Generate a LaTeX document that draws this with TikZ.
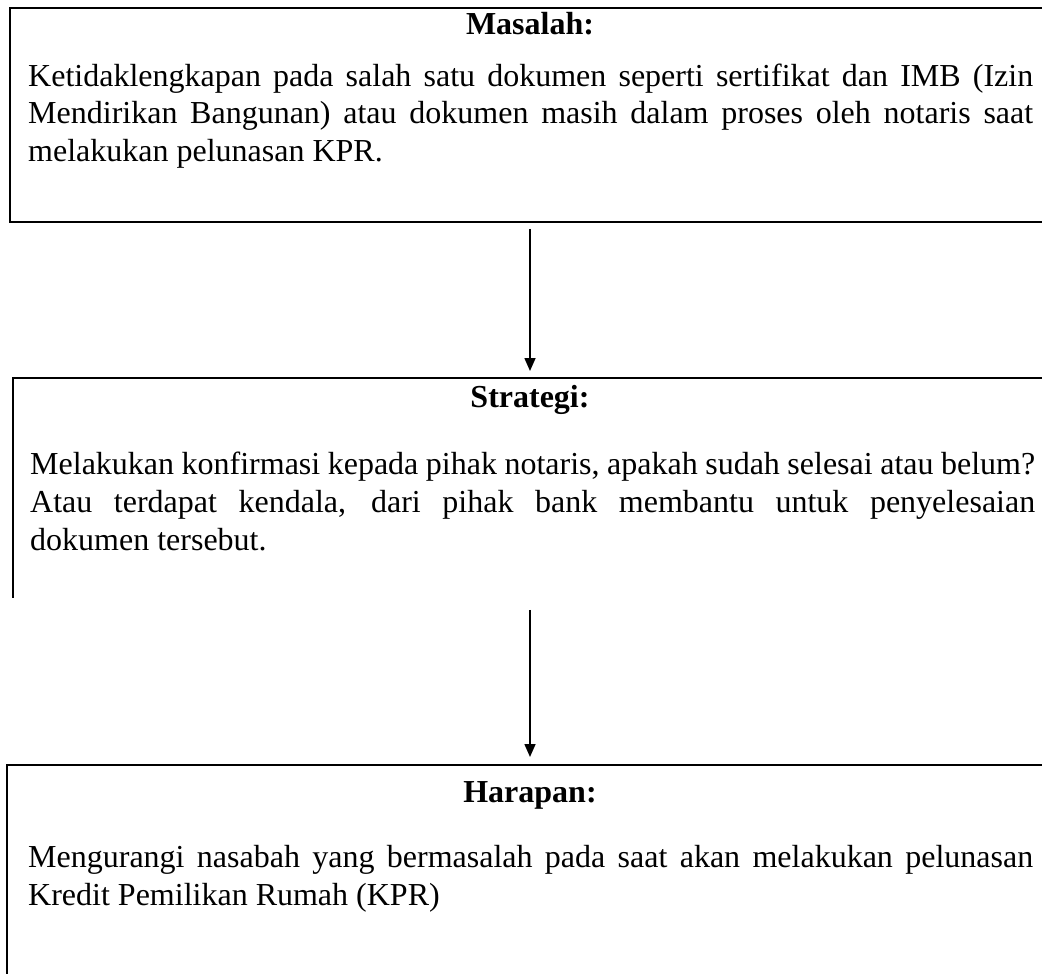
\documentclass[tikz,border=0pt]{standalone}
\usepackage{fontspec}
\setmainfont{Liberation Serif}
\usetikzlibrary{positioning,arrows.meta}

\begin{document}
\begin{tikzpicture}[x=1pt,y=-1pt,
		kotak/.style={draw, line width=1.8pt, inner sep=0pt, anchor=north west},
		judul/.style={font=\bfseries\fontsize{32}{38}\selectfont, anchor=base, inner sep=0pt},
		isi/.style={font=\fontsize{32}{38}\selectfont, text width=1005pt, align=justify, anchor=base west, inner sep=0pt},
		panah/.style={-{Triangle[width=11pt,length=13pt]}, line width=1.6pt}]
		\useasboundingbox (0,0) rectangle (1042,974);
		\clip (0,0) rectangle (1042,974);
		% kotak
		\node[kotak, minimum width=1051pt, minimum height=214pt] (kMasalah) at (9,7) {};
		\node[kotak, draw=none, minimum width=1047pt, minimum height=218pt] (kStrategi) at (13,378) {};
		\draw[line width=1.8pt] (kStrategi.south west) -- (kStrategi.north west) -- (kStrategi.north east);
		\node[kotak, minimum width=1054pt, minimum height=240pt] (kHarapan) at (6,764) {};
		% teks
		\node[judul] (tMasalah) at (530,35) {Masalah:};
		\node[isi] (iMasalah) at (28,86) {Ketidaklengkapan pada salah satu dokumen seperti sertifikat dan IMB (Izin\linebreak Mendirikan Bangunan) atau dokumen masih dalam proses oleh notaris saat\linebreak melakukan pelunasan KPR.};
		\node[judul] (tStrategi) at (530,407) {Strategi:};
		\node[isi] (iStrategi) at (30,474) {Melakukan konfirmasi kepada pihak notaris, apakah sudah selesai atau belum?\linebreak Atau terdapat kendala, dari pihak bank membantu untuk penyelesaian\linebreak dokumen tersebut.};
		\node[judul] (tHarapan) at (530,802) {Harapan:};
		\node[isi] (iHarapan) at (28,867) {Mengurangi nasabah yang bermasalah pada saat akan melakukan pelunasan\linebreak Kredit Pemilikan Rumah (KPR)};
		% panah
		\draw[panah] ([yshift=-6pt]kMasalah.south -| tMasalah) -- ([yshift=7pt]kStrategi.north -| tMasalah);
		\draw[panah] ([yshift=-12pt]kStrategi.south -| tStrategi) -- ([yshift=7pt]kHarapan.north -| tStrategi);
	\end{tikzpicture}
\end{document}
